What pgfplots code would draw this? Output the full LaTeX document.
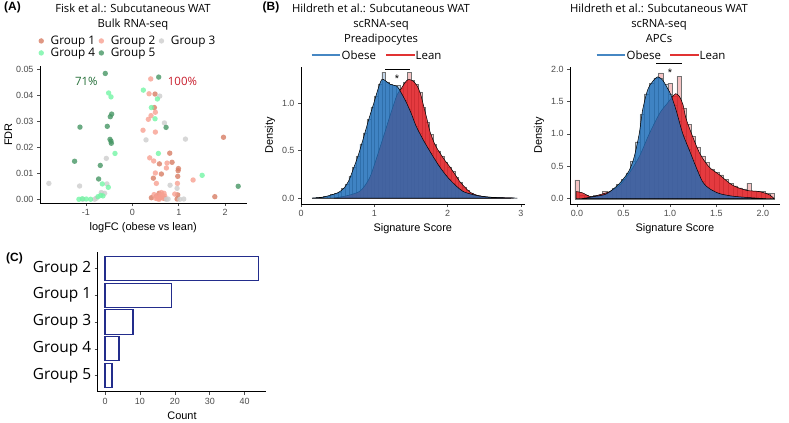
\documentclass[border=0pt]{standalone}
\usepackage{fontspec}
\setmainfont{Open Sans}
\newfontfamily\arial{Liberation Sans}
\usepackage{pgfplots}
\pgfplotsset{compat=1.18}

\definecolor{gA}{RGB}{215,125,100}
\definecolor{gB}{RGB}{247,160,145}
\definecolor{gC}{RGB}{205,205,205}
\definecolor{gD}{RGB}{115,245,165}
\definecolor{gE}{RGB}{70,150,100}
\definecolor{pctgreen}{RGB}{35,110,55}
\definecolor{pctred}{RGB}{200,30,45}
\definecolor{obese}{RGB}{30,110,185}
\definecolor{lean}{RGB}{226,35,40}
\definecolor{obeseH}{RGB}{195,215,235}
\definecolor{leanH}{RGB}{245,195,195}
\definecolor{obeseL}{RGB}{70,135,195}
\definecolor{leanL}{RGB}{225,50,50}
\definecolor{navy}{RGB}{35,45,140}

\pgfdeclareplotmark{dot}{\pgfpathcircle{\pgfpointorigin}{\pgfplotmarksize}\pgfusepathqfill}

\pgfplotsset{
  gg/.style={
    scale only axis,
    axis lines=left,
    axis line style={-, line width=0.8bp, black},
    tick style={line width=0.6bp, black!70},
    tick align=outside,
    major tick length=3bp,
    scaled ticks=false,
    ticklabel style={font=\arial\fontsize{9}{10}\selectfont, text=black!70},
    label style={font=\arial\fontsize{11}{12}\selectfont},
    /pgf/number format/assume math mode=true,
    clip=false,
  },
  dec1/.style={/pgf/number format/fixed, /pgf/number format/fixed zerofill, /pgf/number format/precision=1},
  dens/.style={smooth, draw=black, line width=0.5bp, forget plot},
  hist/.style={ybar interval, draw=black!55, line width=0.3bp, forget plot},
  pts/.style={only marks, mark=dot, mark size=2.7bp, fill opacity=0.8},
}

\begin{document}
\begin{tikzpicture}[x=1bp,y=1bp]

% (A) scatter
\begin{axis}[gg, at={(40bp,218.8bp)}, anchor=south west,
  width=206.5bp, height=137.3bp,
  xmin=-1.99, xmax=2.46, ymin=-0.0015, ymax=0.0512,
  xtick={-1,0,1,2}, ytick={0,0.01,0.02,0.03,0.04,0.05},
  yticklabel style={/pgf/number format/fixed, /pgf/number format/fixed zerofill, /pgf/number format/precision=2},
  xlabel={logFC (obese vs lean)}, ylabel={FDR}, ylabel style={yshift=-3bp},
  legend columns=3,
  legend style={at={(axis description cs:-0.008,1.138)}, anchor=west, draw=none, fill=none,
    inner sep=0pt, font=\fontsize{11.8}{13}\selectfont, column sep=2bp, row sep=-1bp,
    nodes={inner sep=1.5bp}},
  legend image code/.code={\path[draw=none, fill=none] (0bp,-0.5bp) rectangle (8.7bp,0.5bp); \draw[#1] plot coordinates {(2.7bp,0bp)};},
  ]
\addplot[pts, color=gA] coordinates {
 (0.489,0.0404) (0.475,0.0352) (1.964,0.0238) (0.806,0.0177) (0.583,0.0136)
 (0.856,0.0142) (0.993,0.0118) (0.986,0.0110) (0.626,0.0097) (0.453,0.0081)
 (0.978,0.0088) (1.777,0.0010) (0.410,0.0006) (0.576,0.0023) (0.978,0.0017)
 (0.964,0.0001) (0.590,0.0005) (0.520,0.0012) (0.700,0.0003)};
\addlegendentry{Group 1}
\addplot[pts, color=gB] coordinates {
 (0.396,0.0462) (0.360,0.0405) (0.496,0.0334) (0.403,0.0321) (0.345,0.0307)
 (0.230,0.0265) (0.496,0.0258) (0.374,0.0159) (0.460,0.0147) (0.748,0.0139)
 (0.734,0.0120) (0.496,0.0101) (0.518,0.0061) (0.971,0.0061) (1.309,0.0074)
 (0.468,0.0018) (0.626,0.0026) (0.683,0.0023) (0.590,0.0010) (0.662,0.0004)
 (0.576,0.0000) (0.914,0.0020) (0.550,0.0015) (0.620,0.0008) (0.700,0.0012)
 (0.500,0.0004) (0.640,0.0017) (0.540,0.0002)};
\addlegendentry{Group 2}
\addplot[pts, color=gC] coordinates {
 (0.590,0.0396) (0.691,0.0293) (1.144,0.0231) (0.295,0.0228) (-0.561,0.0157)
 (-1.799,0.0061) (-1.137,0.0051) (-0.547,0.0059) (0.813,0.0054) (0.964,0.0042)
 (-0.669,0.0026) (-0.597,0.0023) (-0.777,0.0004) (-1.065,0.0000) (0.734,0.0000)
 (0.770,0.0001) (1.022,0.0000) (1.108,0.0001) (-0.813,0.0000)};
\addlegendentry{Group 3}
\addplot[pts, color=gD] coordinates {
 (-0.511,0.0408) (-0.460,0.0393) (0.237,0.0419) (0.540,0.0385) (0.410,0.0352)
 (0.489,0.0309) (-0.374,0.0176) (0.561,0.0176) (1.504,0.0092) (-0.647,0.0059)
 (-0.518,0.0046) (-0.683,0.0015) (-0.741,0.0010) (-0.633,0.0013) (-0.899,0.0000)
 (-0.993,0.0001) (-1.151,0.0000) (-1.080,0.0002)};
\addlegendentry{Group 4}
\addplot[pts, color=gE] coordinates {
 (-0.583,0.0483) (0.568,0.0469) (-1.129,0.0277) (-0.540,0.0280) (-0.446,0.0327)
 (-0.475,0.0317) (-0.482,0.0230) (-0.460,0.0223) (-0.453,0.0215) (0.727,0.0276)
 (-1.245,0.0146) (-0.691,0.0130) (-0.727,0.0078) (2.281,0.0050)};
\addlegendentry{Group 5}
\node[text=pctgreen, font=\fontsize{11.5}{12}\selectfont] at (axis cs:-0.99,0.0451) {71\%};
\node[text=pctred, font=\fontsize{11.5}{12}\selectfont] at (axis cs:1.08,0.0451) {100\%};
\end{axis}

% (B) left: preadipocytes
\begin{axis}[gg, at={(301bp,218bp)}, anchor=south west,
  width=223.6bp, height=137.2bp,
  xmin=0, xmax=3.05, ymin=-0.063, ymax=1.386,
  xtick={0,1,2,3}, ytick={0,0.5,1},
  yticklabel style={dec1},
  xlabel={Signature Score}, ylabel={Density},
  ]
\addplot[hist, fill=leanH] coordinates {
 (0.45,0.004) (0.50,0.008) (0.55,0.015) (0.60,0.025) (0.65,0.035) (0.70,0.045)
 (0.75,0.06) (0.80,0.09) (0.85,0.14) (0.90,0.20) (0.95,0.30) (1.00,0.41)
 (1.05,0.53) (1.10,0.65) (1.15,0.77) (1.20,0.89) (1.25,1.00) (1.30,1.10)
 (1.35,1.16) (1.40,1.22) (1.45,1.33) (1.50,1.24) (1.55,1.20) (1.60,1.12)
 (1.65,0.96) (1.70,0.80) (1.75,0.67) (1.80,0.57) (1.85,0.50) (1.90,0.44)
 (1.95,0.38) (2.00,0.33) (2.05,0.28) (2.10,0.22) (2.15,0.165) (2.20,0.12)
 (2.25,0.08) (2.30,0.055) (2.35,0.035) (2.40,0.025) (2.45,0.018) (2.50,0.012)
 (2.55,0.009) (2.60,0.007) (2.65,0.005) (2.70,0.004) (2.75,0.003) (2.80,0.002) (2.85,0)};
\addplot[hist, fill=obeseH] coordinates {
 (0.15,0.002) (0.20,0.005) (0.25,0.008) (0.30,0.015) (0.35,0.025) (0.40,0.036)
 (0.45,0.05) (0.50,0.065) (0.55,0.10) (0.60,0.15) (0.65,0.23) (0.70,0.33)
 (0.75,0.44) (0.80,0.57) (0.85,0.69) (0.90,0.83) (0.95,0.96) (1.00,1.08)
 (1.05,1.20) (1.10,1.33) (1.15,1.22) (1.20,1.20) (1.25,1.19) (1.30,1.19)
 (1.35,1.10) (1.40,1.03) (1.45,0.94) (1.50,0.85) (1.55,0.76) (1.60,0.68)
 (1.65,0.60) (1.70,0.53) (1.75,0.47) (1.80,0.41) (1.85,0.35) (1.90,0.29)
 (1.95,0.24) (2.00,0.20) (2.05,0.16) (2.10,0.12) (2.15,0.09) (2.20,0.065)
 (2.25,0.05) (2.30,0.04) (2.35,0.03) (2.40,0.02) (2.45,0.016) (2.50,0.012)
 (2.55,0.009) (2.60,0.007) (2.65,0.005) (2.70,0.003) (2.75,0.002) (2.80,0.001) (2.85,0)};
\addplot[dens, fill=lean, fill opacity=0.85] coordinates {
 (0.45,0) (0.6,0.02) (0.7,0.04) (0.80,0.07) (0.87,0.13) (0.94,0.22) (1.00,0.35)
 (1.08,0.54) (1.15,0.71) (1.21,0.86) (1.27,1.00) (1.31,1.09) (1.37,1.16) (1.42,1.22)
 (1.46,1.25) (1.52,1.24) (1.58,1.19) (1.63,1.10) (1.67,0.98) (1.72,0.83) (1.76,0.70)
 (1.83,0.56) (1.90,0.47) (1.96,0.40) (2.03,0.33) (2.10,0.25) (2.17,0.17) (2.24,0.11)
 (2.31,0.06) (2.40,0.03) (2.55,0.01) (2.70,0.005) (2.9,0)} \closedcycle;
\addplot[dens, fill=obese, fill opacity=0.8] coordinates {
 (0.15,0) (0.3,0.01) (0.4,0.03) (0.5,0.055) (0.58,0.10) (0.65,0.18) (0.71,0.30)
 (0.78,0.45) (0.85,0.63) (0.92,0.82) (1.00,1.02) (1.05,1.15) (1.10,1.25) (1.15,1.24)
 (1.22,1.20) (1.31,1.18) (1.36,1.12) (1.43,1.02) (1.50,0.90) (1.57,0.76) (1.67,0.61)
 (1.80,0.44) (1.90,0.32) (2.00,0.22) (2.10,0.14) (2.21,0.07) (2.35,0.035) (2.44,0.02)
 (2.6,0.008) (2.8,0.002) (2.95,0)} \closedcycle;
\draw[line width=0.8bp] (axis cs:1.146,1.362) -- (axis cs:1.487,1.362);
\node[font=\arial\fontsize{11}{12}\selectfont] at (axis cs:1.31,1.263) {*};
\end{axis}

% (B) right: APCs
\begin{axis}[gg, at={(570bp,218bp)}, anchor=south west,
  width=209.7bp, height=137.3bp,
  xmin=-0.075, xmax=2.18, ymin=-0.082, ymax=2.037,
  xtick={0,0.5,1,1.5,2}, ytick={0,0.5,1,1.5,2},
  xticklabel style={dec1}, yticklabel style={dec1},
  xlabel={Signature Score}, ylabel={Density},
  ]
\addplot[hist, fill=leanH] coordinates {
 (-0.025,0.29) (0.025,0.06) (0.075,0.05) (0.125,0.04) (0.175,0.05) (0.225,0.06)
 (0.275,0.11) (0.325,0.10) (0.375,0.13) (0.425,0.17) (0.475,0.23) (0.525,0.31)
 (0.575,0.42) (0.625,0.53) (0.675,0.67) (0.725,0.83) (0.775,1.00) (0.825,1.15)
 (0.875,1.94) (0.925,1.42) (0.975,1.78) (1.025,1.58) (1.075,1.89) (1.125,1.40)
 (1.175,1.15) (1.225,0.96) (1.275,0.80) (1.325,0.66) (1.375,0.56) (1.425,0.46)
 (1.475,0.41) (1.525,0.37) (1.575,0.30) (1.625,0.24) (1.675,0.20) (1.725,0.17)
 (1.775,0.15) (1.825,0.24) (1.875,0.12) (1.925,0.11) (1.975,0.11) (2.025,0.09)
 (2.075,0.08) (2.125,0)};
\addplot[hist, fill=obeseH] coordinates {
 (0.075,0.01) (0.125,0.03) (0.175,0.04) (0.225,0.05) (0.275,0.07) (0.325,0.10)
 (0.375,0.16) (0.425,0.22) (0.475,0.30) (0.525,0.40) (0.575,0.58) (0.625,0.88)
 (0.675,1.30) (0.725,1.62) (0.775,1.78) (0.825,1.86) (0.875,1.86) (0.925,1.76)
 (0.975,1.62) (1.025,1.45) (1.075,1.20) (1.125,0.96) (1.175,0.77) (1.225,0.60)
 (1.275,0.42) (1.325,0.27) (1.375,0.18) (1.425,0.13) (1.475,0.09) (1.525,0.07)
 (1.575,0.05) (1.625,0.04) (1.675,0.035) (1.725,0.03) (1.775,0.025) (1.825,0.02)
 (1.875,0.015) (1.925,0.01) (1.975,0.005) (2.025,0)};
\addplot[dens, fill=lean, fill opacity=0.85] coordinates {
 (-0.01,0.11) (0.06,0.09) (0.15,0.03) (0.24,0.06) (0.35,0.11) (0.46,0.21) (0.56,0.39)
 (0.67,0.65) (0.78,1.01) (0.89,1.32) (0.97,1.47) (1.02,1.56) (1.06,1.62) (1.10,1.58)
 (1.14,1.45) (1.17,1.25) (1.23,1.01) (1.32,0.70) (1.42,0.49) (1.53,0.37) (1.67,0.21)
 (1.82,0.13) (1.96,0.11) (2.07,0.06) (2.12,0)} \closedcycle;
\addplot[dens, fill=obese, fill opacity=0.8] coordinates {
 (0.05,0) (0.17,0.03) (0.31,0.07) (0.42,0.185) (0.49,0.29) (0.563,0.44) (0.616,0.65)
 (0.67,1.01) (0.706,1.37) (0.76,1.68) (0.814,1.81) (0.867,1.88) (0.921,1.83)
 (0.975,1.70) (1.011,1.60) (1.065,1.37) (1.136,1.01) (1.208,0.75) (1.28,0.49)
 (1.351,0.26) (1.42,0.16) (1.53,0.08) (1.67,0.04) (1.82,0.02) (2.03,0)} \closedcycle;
\draw[line width=0.8bp] (axis cs:0.85,2.088) -- (axis cs:1.125,2.088);
\node[font=\arial\fontsize{11}{12}\selectfont] at (axis cs:1.0,1.95) {*};
\end{axis}

% (C) counts
\begin{axis}[gg, at={(97.7bp,30.3bp)}, anchor=south west,
  width=168.6bp, height=139.4bp,
  xmin=-2.1, xmax=46.2, ymin=0.4, ymax=5.6,
  xtick={0,10,20,30,40}, ytick={1,2,3,4,5},
  yticklabels={Group 5,Group 4,Group 3,Group 1,Group 2},
  yticklabel style={font=\fontsize{15.5}{16}\selectfont, text=black},
  xlabel={Count},
  ]
\addplot[xbar, bar width=0.9, bar shift=0pt, draw=navy, fill=white, line width=1.1bp]
  coordinates {(44,5) (19,4) (8,3) (4,2) (2,1)};
\end{axis}

% legends of the two density panels
\begin{scope}[every node/.style={font=\fontsize{11.5}{12}\selectfont, anchor=base west, inner sep=0pt}]
\draw[obeseL, line width=1.1bp] (311.7,367) -- (340,367);
\node at (341.5,362.7) {Obese};
\draw[leanL, line width=1.1bp] (386,367) -- (415,367);
\node at (415.5,362.7) {Lean};
\draw[obeseL, line width=1.1bp] (596.7,367) -- (625,367);
\node at (626.5,362.7) {Obese};
\draw[leanL, line width=1.1bp] (670,367) -- (699,367);
\node at (699.5,362.7) {Lean};
\end{scope}

% titles and panel letters
\node[font=\arial\bfseries\fontsize{12}{13}\selectfont, anchor=base] at (12.5,411) {(A)};
\node[font=\arial\bfseries\fontsize{12}{13}\selectfont, anchor=base] at (271,411) {(B)};
\node[font=\arial\bfseries\fontsize{12}{13}\selectfont, anchor=base] at (14.5,161) {(C)};
\begin{scope}[every node/.style={font=\fontsize{11.3}{12}\selectfont, anchor=base}]
\node at (133,409) {Fisk et al.: Subcutaneous WAT};
\node at (133,394.5) {Bulk RNA-seq};
\node at (381,409.5) {Hildreth et al.: Subcutaneous WAT};
\node at (381,394) {scRNA-seq};
\node at (381,379.5) {Preadipocytes};
\node at (659,409.5) {Hildreth et al.: Subcutaneous WAT};
\node at (659,394) {scRNA-seq};
\node at (659,379.5) {APCs};
\end{scope}
\pgfresetboundingbox
\path[use as bounding box] (0,0) rectangle (789,422);
\end{tikzpicture}
\end{document}
